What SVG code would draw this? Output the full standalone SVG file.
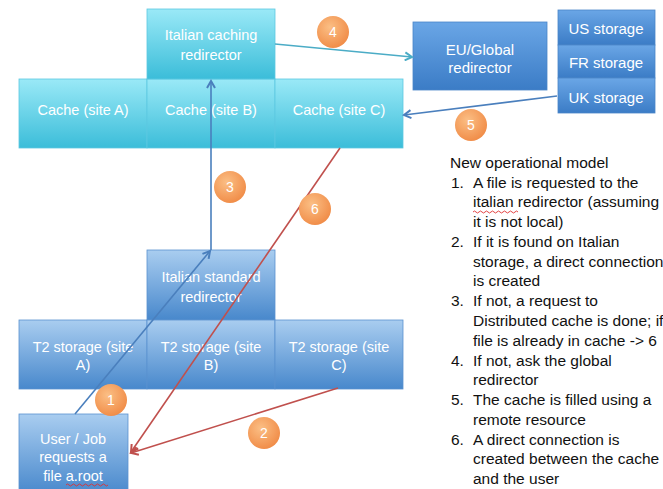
<svg xmlns="http://www.w3.org/2000/svg" width="663" height="489" viewBox="0 0 663 489">
<defs>
<linearGradient id="gCyan" x1="0" y1="0" x2="0" y2="1"><stop offset="0" stop-color="#9ae9f7"/><stop offset="1" stop-color="#3bbdd9"/></linearGradient>
<linearGradient id="gBlue" x1="0" y1="0" x2="0" y2="1"><stop offset="0" stop-color="#a9cdf0"/><stop offset="1" stop-color="#4888cc"/></linearGradient>
<linearGradient id="gBlue2" x1="0" y1="0" x2="0" y2="1"><stop offset="0" stop-color="#6aa6e6"/><stop offset="1" stop-color="#3b7cc6"/></linearGradient>
<radialGradient id="gOr" cx="0.4" cy="0.35" r="0.7"><stop offset="0" stop-color="#fbbf85"/><stop offset="1" stop-color="#f08a45"/></radialGradient>
<marker id="aBlue" markerWidth="10" markerHeight="10" refX="8" refY="5" orient="auto" markerUnits="userSpaceOnUse"><path d="M1,1 L8,5 L1,9" fill="none" stroke="#4a7fbd" stroke-width="2"/></marker>
<marker id="aTeal" markerWidth="10" markerHeight="10" refX="8" refY="5" orient="auto" markerUnits="userSpaceOnUse"><path d="M1,1 L8,5 L1,9" fill="none" stroke="#4bacc6" stroke-width="2"/></marker>
<marker id="aRed" markerWidth="10" markerHeight="10" refX="8" refY="5" orient="auto" markerUnits="userSpaceOnUse"><path d="M1,1 L8,5 L1,9" fill="none" stroke="#c0504d" stroke-width="2"/></marker>
</defs>
<style>
.cy{fill:url(#gCyan);stroke:#5cc8e0;stroke-width:0.8}
.bl{fill:url(#gBlue);stroke:#5a92cf;stroke-width:0.8}
.bl2{fill:url(#gBlue2);stroke:#4a85c8;stroke-width:0.8}
.t{font-family:"Liberation Sans",Arial,sans-serif;font-size:14.5px;fill:#ffffff;text-anchor:middle}
.t15{font-size:15px}
.num{font-family:"Liberation Sans",Arial,sans-serif;font-size:14px;fill:#ffffff;text-anchor:middle}
.ci{fill:url(#gOr)}
.lst{font-family:"Liberation Sans",Arial,sans-serif;font-size:15.5px;fill:#111111}
.cb{fill:none;stroke:#4a7fbd;stroke-width:1.6}
.ct{fill:none;stroke:#4bacc6;stroke-width:1.6}
.cr{fill:none;stroke:#c0504d;stroke-width:1.6}
.sq{fill:none;stroke:#e03030;stroke-width:0.9}
</style>
<rect width="663" height="489" fill="#ffffff"/>

<g id="cache-a"><rect class="cy" x="19" y="79" width="128" height="69"/><text class="t" x="83" y="115">Cache (site A)</text></g>
<g id="cache-b"><rect class="cy" x="147" y="79" width="128" height="69"/><text class="t" x="211" y="115">Cache (site B)</text></g>
<g id="cache-c"><rect class="cy" x="275" y="79" width="128" height="69"/><text class="t" x="339" y="115">Cache (site C)</text></g>
<g id="caching-redirector"><rect class="cy" x="147" y="9" width="128" height="70"/><text class="t" x="211" y="40">Italian caching</text><text class="t" x="211" y="60">redirector</text></g>

<g id="eu-global"><rect class="bl2" x="413" y="22" width="134" height="68"/><text class="t t15" x="480" y="55">EU/Global</text><text class="t t15" x="480" y="73">redirector</text></g>
<g id="us-storage"><rect class="bl2" x="558" y="10" width="97" height="35"/><text class="t t15" x="606" y="34">US storage</text></g>
<g id="fr-storage"><rect class="bl2" x="558" y="45" width="97" height="33"/><text class="t t15" x="606" y="68">FR storage</text></g>
<g id="uk-storage"><rect class="bl2" x="558" y="78" width="97" height="35"/><text class="t t15" x="606" y="103">UK storage</text></g>

<g id="standard-redirector"><rect class="bl" x="147" y="250" width="128" height="70"/><text class="t" x="211" y="282">Italian standard</text><text class="t" x="211" y="302">redirector</text></g>
<g id="t2-a"><rect class="bl" x="19" y="320" width="128" height="69"/><text class="t" x="83" y="352">T2 storage (site</text><text class="t" x="83" y="370">A)</text></g>
<g id="t2-b"><rect class="bl" x="147" y="320" width="128" height="69"/><text class="t" x="211" y="352">T2 storage (site</text><text class="t" x="211" y="370">B)</text></g>
<g id="t2-c"><rect class="bl" x="275" y="320" width="128" height="69"/><text class="t" x="339" y="352">T2 storage (site</text><text class="t" x="339" y="370">C)</text></g>

<g id="user"><rect class="bl" x="19" y="414" width="109" height="80"/><text class="t" x="73" y="444">User / Job</text><text class="t" x="73" y="462">requests a</text><text class="t" x="73" y="481">file a.root</text><path class="sq" d="M66,485 q1.5,-2 3,0 t3,0 t3,0 t3,0 t3,0 t3,0 t3,0 t3,0 t3,0 t3,0 t3,0 t3,0 t3,0 t3,0"/></g>

<g id="connectors">
<line class="ct" x1="275" y1="44" x2="412" y2="57" marker-end="url(#aTeal)"/>
<line class="cb" x1="557" y1="96" x2="404" y2="115" marker-end="url(#aBlue)"/>
<line class="cb" x1="75" y1="414" x2="210" y2="251" marker-end="url(#aBlue)"/>
<line class="cb" x1="211" y1="250" x2="211" y2="81" marker-end="url(#aBlue)"/>
<line class="cr" x1="340" y1="148" x2="131" y2="452" marker-end="url(#aRed)"/>
<line class="cr" x1="338" y1="388" x2="131" y2="453" marker-end="url(#aRed)"/>
</g>

<g id="step-1"><circle class="ci" cx="111" cy="400" r="16"/><text class="num" x="111" y="405">1</text></g>
<g id="step-2"><circle class="ci" cx="264" cy="433" r="16"/><text class="num" x="264" y="438">2</text></g>
<g id="step-3"><circle class="ci" cx="230" cy="187" r="16"/><text class="num" x="230" y="192">3</text></g>
<g id="step-4"><circle class="ci" cx="333" cy="32" r="16"/><text class="num" x="333" y="37">4</text></g>
<g id="step-5"><circle class="ci" cx="471" cy="125" r="16"/><text class="num" x="471" y="130">5</text></g>
<g id="step-6"><circle class="ci" cx="315" cy="209" r="16"/><text class="num" x="315" y="214">6</text></g>

<g id="legend">
<text class="lst" x="450" y="168">New operational model</text>
<text class="lst" x="451" y="188">1.</text><text class="lst" x="473" y="188">A file is requested to the</text>
<text class="lst" x="473" y="207">italian redirector (assuming</text>
<path class="sq" d="M473,212 q1.5,-2 3,0 t3,0 t3,0 t3,0 t3,0 t3,0 t3,0 t3,0 t3,0 t3,0 t3,0 t3,0 t3,0 t3,0 t3,0"/>
<text class="lst" x="473" y="227">it is not local)</text>
<text class="lst" x="451" y="247">2.</text><text class="lst" x="473" y="247">If it is found on Italian</text>
<text class="lst" x="473" y="267">storage, a direct connection</text>
<text class="lst" x="473" y="286">is created</text>
<text class="lst" x="451" y="306">3.</text><text class="lst" x="473" y="306">If not, a request to</text>
<text class="lst" x="473" y="326">Distributed cache is done; if</text>
<text class="lst" x="473" y="346">file is already in cache -&gt; 6</text>
<text class="lst" x="451" y="366">4.</text><text class="lst" x="473" y="366">If not, ask the global</text>
<text class="lst" x="473" y="385">redirector</text>
<text class="lst" x="451" y="405">5.</text><text class="lst" x="473" y="405">The cache is filled using a</text>
<text class="lst" x="473" y="425">remote resource</text>
<text class="lst" x="451" y="445">6.</text><text class="lst" x="473" y="445">A direct connection is</text>
<text class="lst" x="473" y="464">created between the cache</text>
<text class="lst" x="473" y="484">and the user</text>
</g>
</svg>
